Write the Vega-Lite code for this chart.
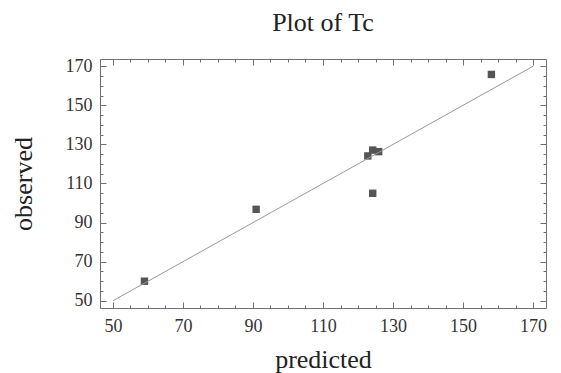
{
  "$schema": "https://vega.github.io/schema/vega-lite/v6.json",
  "width": 446,
  "height": 249,
  "autosize": "none",
  "padding": {"left": 100, "top": 59, "right": 15, "bottom": 65},
  "background": "white",
  "title": {"text": "Plot of Tc", "font": "Liberation Serif", "fontSize": 26, "fontWeight": "normal", "color": "#222222", "anchor": "middle", "offset": 0, "baseline": "alphabetic"},
  "config": {
    "view": {"stroke": null},
    "axis": {
      "domainColor": "#707070",
      "tickColor": "#707070",
      "domainWidth": 1,
      "tickWidth": 1,
      "grid": false,
      "labelFont": "Liberation Serif",
      "labelFontSize": 18,
      "labelColor": "#333333",
      "titleFont": "Liberation Serif",
      "titleFontSize": 26,
      "titleFontWeight": "normal",
      "titleColor": "#222222",
      "labelOverlap": false,
      "tickSize": {"condition": {"test": "datum.value % 20 == 10", "value": -6}, "value": -3}
    }
  },
  "layer": [
    {
      "data": {"values": [
        {"predicted": 59, "observed": 60},
        {"predicted": 90.9, "observed": 96.8},
        {"predicted": 122.8, "observed": 124.1},
        {"predicted": 124.2, "observed": 127.1},
        {"predicted": 125.9, "observed": 126.3},
        {"predicted": 124.2, "observed": 105.0},
        {"predicted": 158.1, "observed": 165.8}
      ]},
      "mark": {"type": "square", "size": 55, "color": "#555555", "opacity": 1},
      "encoding": {
        "x": {"field": "predicted", "type": "quantitative",
          "scale": {"domain": [46.3, 173.7], "nice": false, "zero": false},
          "axis": {"orient": "bottom", "title": "predicted",
            "values": [50,55,60,65,70,75,80,85,90,95,100,105,110,115,120,125,130,135,140,145,150,155,160,165,170],
            "labelExpr": "datum.value % 20 == 10 ? datum.label : ''",
            "labelPadding": 15, "titlePadding": 8}},
        "y": {"field": "observed", "type": "quantitative",
          "scale": {"domain": [46.3, 173.7], "nice": false, "zero": false},
          "axis": {"orient": "left", "title": "observed",
            "values": [50,55,60,65,70,75,80,85,90,95,100,105,110,115,120,125,130,135,140,145,150,155,160,165,170],
            "labelExpr": "datum.value % 20 == 10 ? datum.label : ''",
            "labelPadding": 14, "titlePadding": 29}}
      }
    },
    {
      "data": {"values": [
        {"predicted": 50, "observed": 50},
        {"predicted": 170, "observed": 170}
      ]},
      "mark": {"type": "line", "color": "#999999", "strokeWidth": 1},
      "encoding": {
        "x": {"field": "predicted", "type": "quantitative",
          "scale": {"domain": [46.3, 173.7], "nice": false, "zero": false},
          "axis": {"orient": "top", "title": null, "labels": false,
            "values": [50,55,60,65,70,75,80,85,90,95,100,105,110,115,120,125,130,135,140,145,150,155,160,165,170]}},
        "y": {"field": "observed", "type": "quantitative",
          "scale": {"domain": [46.3, 173.7], "nice": false, "zero": false},
          "axis": {"orient": "right", "title": null, "labels": false,
            "values": [50,55,60,65,70,75,80,85,90,95,100,105,110,115,120,125,130,135,140,145,150,155,160,165,170]}}
      }
    }
  ],
  "resolve": {"axis": {"x": "independent", "y": "independent"}}
}
